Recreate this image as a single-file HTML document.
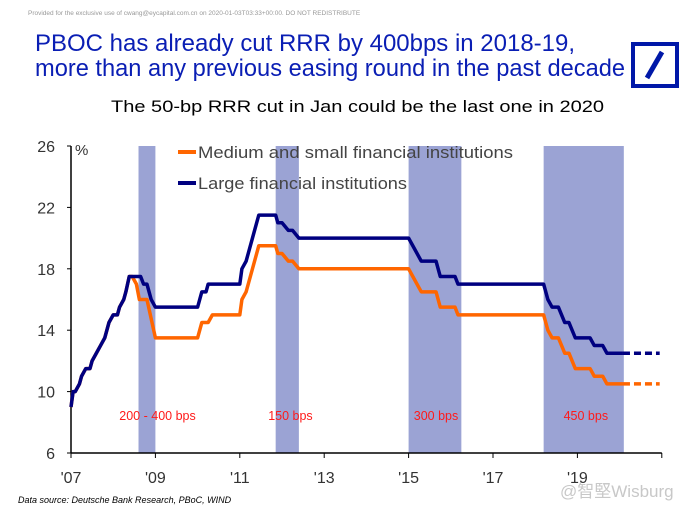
<!DOCTYPE html>
<html><head><meta charset="utf-8"><style>
html,body{margin:0;padding:0;background:#fff;}
svg{display:block;font-family:"Liberation Sans","Noto Sans CJK SC",sans-serif;}
</style></head><body>
<svg id="chart" width="690" height="508" viewBox="0 0 690 508" xmlns="http://www.w3.org/2000/svg">
<text x="28" y="15" font-size="6.5" fill="#999">Provided for the exclusive use of cwang@eycapital.com.cn on 2020-01-03T03:33+00:00. DO NOT REDISTRIBUTE</text>
<text x="35" y="51" font-size="24" fill="#0a1eb4" textLength="540" lengthAdjust="spacingAndGlyphs">PBOC has already cut RRR by 400bps in 2018-19,</text>
<text x="35" y="76" font-size="24" fill="#0a1eb4" textLength="590" lengthAdjust="spacingAndGlyphs">more than any previous easing round in the past decade</text>
<g>
<rect x="633" y="44" width="44" height="42" fill="none" stroke="#0018a8" stroke-width="4"/>
<line x1="647" y1="78" x2="662" y2="52" stroke="#0018a8" stroke-width="5"/>
</g>
<text x="111" y="112" font-size="17" fill="#000" textLength="493" lengthAdjust="spacingAndGlyphs">The 50-bp RRR cut in Jan could be the last one in 2020</text>
<g id="bands"></g>
<g id="axes"></g>
<g id="lines"></g>
<g>
<line x1="178" y1="152" x2="196" y2="152" stroke="#ff6600" stroke-width="4"/>
<text x="198" y="158" font-size="17" fill="#444" textLength="315" lengthAdjust="spacingAndGlyphs">Medium and small financial institutions</text>
<line x1="178" y1="183" x2="196" y2="183" stroke="#000080" stroke-width="4"/>
<text x="198" y="189" font-size="17" fill="#444" textLength="209" lengthAdjust="spacingAndGlyphs">Large financial institutions</text>
</g>
<text x="18" y="503" font-size="9" font-style="italic" fill="#000">Data source: Deutsche Bank Research, PBoC, WIND</text>
<text x="560" y="497" font-size="17" fill="#c8c8c8">@智堅Wisburg</text>
</svg>
<script>
const yTicks=[6,10,14,18,22,26];
const xTickYears=[2007,2009,2011,2013,2015,2017,2019,2021];
const xTickLabels=["'07","'09","'11","'13","'15","'17","'19",""];
const bandStart=[2008.6,2011.85,2015.0,2018.2];
const bandEnd=[2009.0,2012.4,2016.25,2020.1];
const bandLabels=["200 - 400 bps","150 bps","300 bps","450 bps"];
const bandLabelYears=[2009.05,2012.2,2015.65,2019.2];
const largeDates=[2007.0,2007.05,2007.1,2007.2,2007.25,2007.35,2007.45,2007.5,2007.6,2007.7,2007.8,2007.9,2008.0,2008.1,2008.15,2008.25,2008.3,2008.38,2008.45,2008.65,2008.72,2008.8,2008.9,2009.0,2010.0,2010.1,2010.2,2010.25,2011.0,2011.05,2011.15,2011.3,2011.45,2011.85,2011.9,2012.0,2012.15,2012.25,2012.4,2015.0,2015.1,2015.3,2015.65,2015.75,2016.1,2016.17,2018.2,2018.3,2018.4,2018.55,2018.7,2018.8,2018.95,2019.3,2019.4,2019.6,2019.7,2020.08];
const largeValues=[9.0,10.0,10.0,10.5,11.0,11.5,11.5,12.0,12.5,13.0,13.5,14.5,15.0,15.0,15.5,16.0,16.5,17.5,17.5,17.5,17.0,17.0,16.0,15.5,15.5,16.5,16.5,17.0,17.0,18.0,18.5,20.0,21.5,21.5,21.0,21.0,20.5,20.5,20.0,20.0,19.5,18.5,18.5,17.5,17.5,17.0,17.0,16.0,15.5,15.5,14.5,14.5,13.5,13.5,13.0,13.0,12.5,12.5];
const mediumDates=[2008.45,2008.55,2008.62,2008.8,2009.0,2010.0,2010.1,2010.25,2010.35,2011.0,2011.05,2011.15,2011.3,2011.45,2011.85,2011.9,2012.0,2012.15,2012.25,2012.4,2015.0,2015.1,2015.3,2015.65,2015.75,2016.1,2016.17,2018.2,2018.3,2018.4,2018.55,2018.7,2018.8,2018.95,2019.3,2019.4,2019.6,2019.7,2020.08];
const mediumValues=[17.5,17.0,16.0,16.0,13.5,13.5,14.5,14.5,15.0,15.0,16.0,16.5,18.0,19.5,19.5,19.0,19.0,18.5,18.5,18.0,18.0,17.5,16.5,16.5,15.5,15.5,15.0,15.0,14.0,13.5,13.5,12.5,12.5,11.5,11.5,11.0,11.0,10.5,10.5];
const forecastEnd=2020.95;
</script>
<script>
(function(){
const NS="http://www.w3.org/2000/svg";
const X0=71,PXY=42.2,Y0=453,PXV=15.35;
const sx=d=>X0+(d-2007)*PXY;
const sy=v=>Y0-(v-6)*PXV;
function mk(t,a,p){const e=document.createElementNS(NS,t);for(const k in a)e.setAttribute(k,a[k]);p.appendChild(e);return e;}
const bands=document.getElementById('bands');
bandStart.forEach((s,i)=>{
const r=mk('rect',{x:sx(s),y:sy(26),width:sx(bandEnd[i])-sx(s),height:Y0-sy(26),fill:'#9ba3d4'},bands);


const t=mk('text',{x:sx(bandLabelYears[i]),y:420,'font-size':'12.5',fill:'#ff1a1a','text-anchor':'middle'},bands);
t.textContent=bandLabels[i];


});
const ax=document.getElementById('axes');
const yl=mk('line',{x1:X0,y1:sy(26),x2:X0,y2:Y0,stroke:'#000','stroke-width':1.5},ax);


const xl=mk('line',{x1:X0,y1:Y0,x2:sx(2021),y2:Y0,stroke:'#000','stroke-width':1.5},ax);


yTicks.forEach(v=>{
mk('line',{x1:X0-4,y1:sy(v),x2:X0,y2:sy(v),stroke:'#000'},ax);
const t=mk('text',{x:55,y:sy(v)+6,'font-size':'16',fill:'#333','text-anchor':'end'},ax);
t.textContent=v;


});
const pct=mk('text',{x:75,y:155,'font-size':'15',fill:'#333'},ax);
pct.textContent='%';


xTickYears.forEach((y,i)=>{
mk('line',{x1:sx(y),y1:Y0,x2:sx(y),y2:Y0+5,stroke:'#000'},ax);
const t=mk('text',{x:sx(y),y:483,'font-size':'16',fill:'#333','text-anchor':'middle'},ax);
t.textContent=xTickLabels[i];


});
const L=document.getElementById('lines');
function pts(ds,vs){return ds.map((d,i)=>sx(d)+','+sy(vs[i])).join(' ');}
const mStart=largeDates.indexOf(mediumDates[0]);
const mD=largeDates.slice(0,mStart).concat(mediumDates);
const mV=largeValues.slice(0,mStart).concat(mediumValues);
const m=mk('polyline',{points:pts(mD,mV),fill:'none',stroke:'#ff6600','stroke-width':3.5,'stroke-linejoin':'round'},L);


const l=mk('polyline',{points:pts(largeDates,largeValues),fill:'none',stroke:'#000080','stroke-width':3.5,'stroke-linejoin':'round'},L);


const mLast=mediumValues[mediumValues.length-1],lLast=largeValues[largeValues.length-1];
const md=mk('line',{x1:sx(mediumDates[mediumDates.length-1]),y1:sy(mLast),x2:sx(forecastEnd),y2:sy(mLast),stroke:'#ff6600','stroke-width':3.5,'stroke-dasharray':'7,4'},L);


const ld=mk('line',{x1:sx(largeDates[largeDates.length-1]),y1:sy(lLast),x2:sx(forecastEnd),y2:sy(lLast),stroke:'#000080','stroke-width':3.5,'stroke-dasharray':'7,4'},L);


})();
</script>
</body></html>
